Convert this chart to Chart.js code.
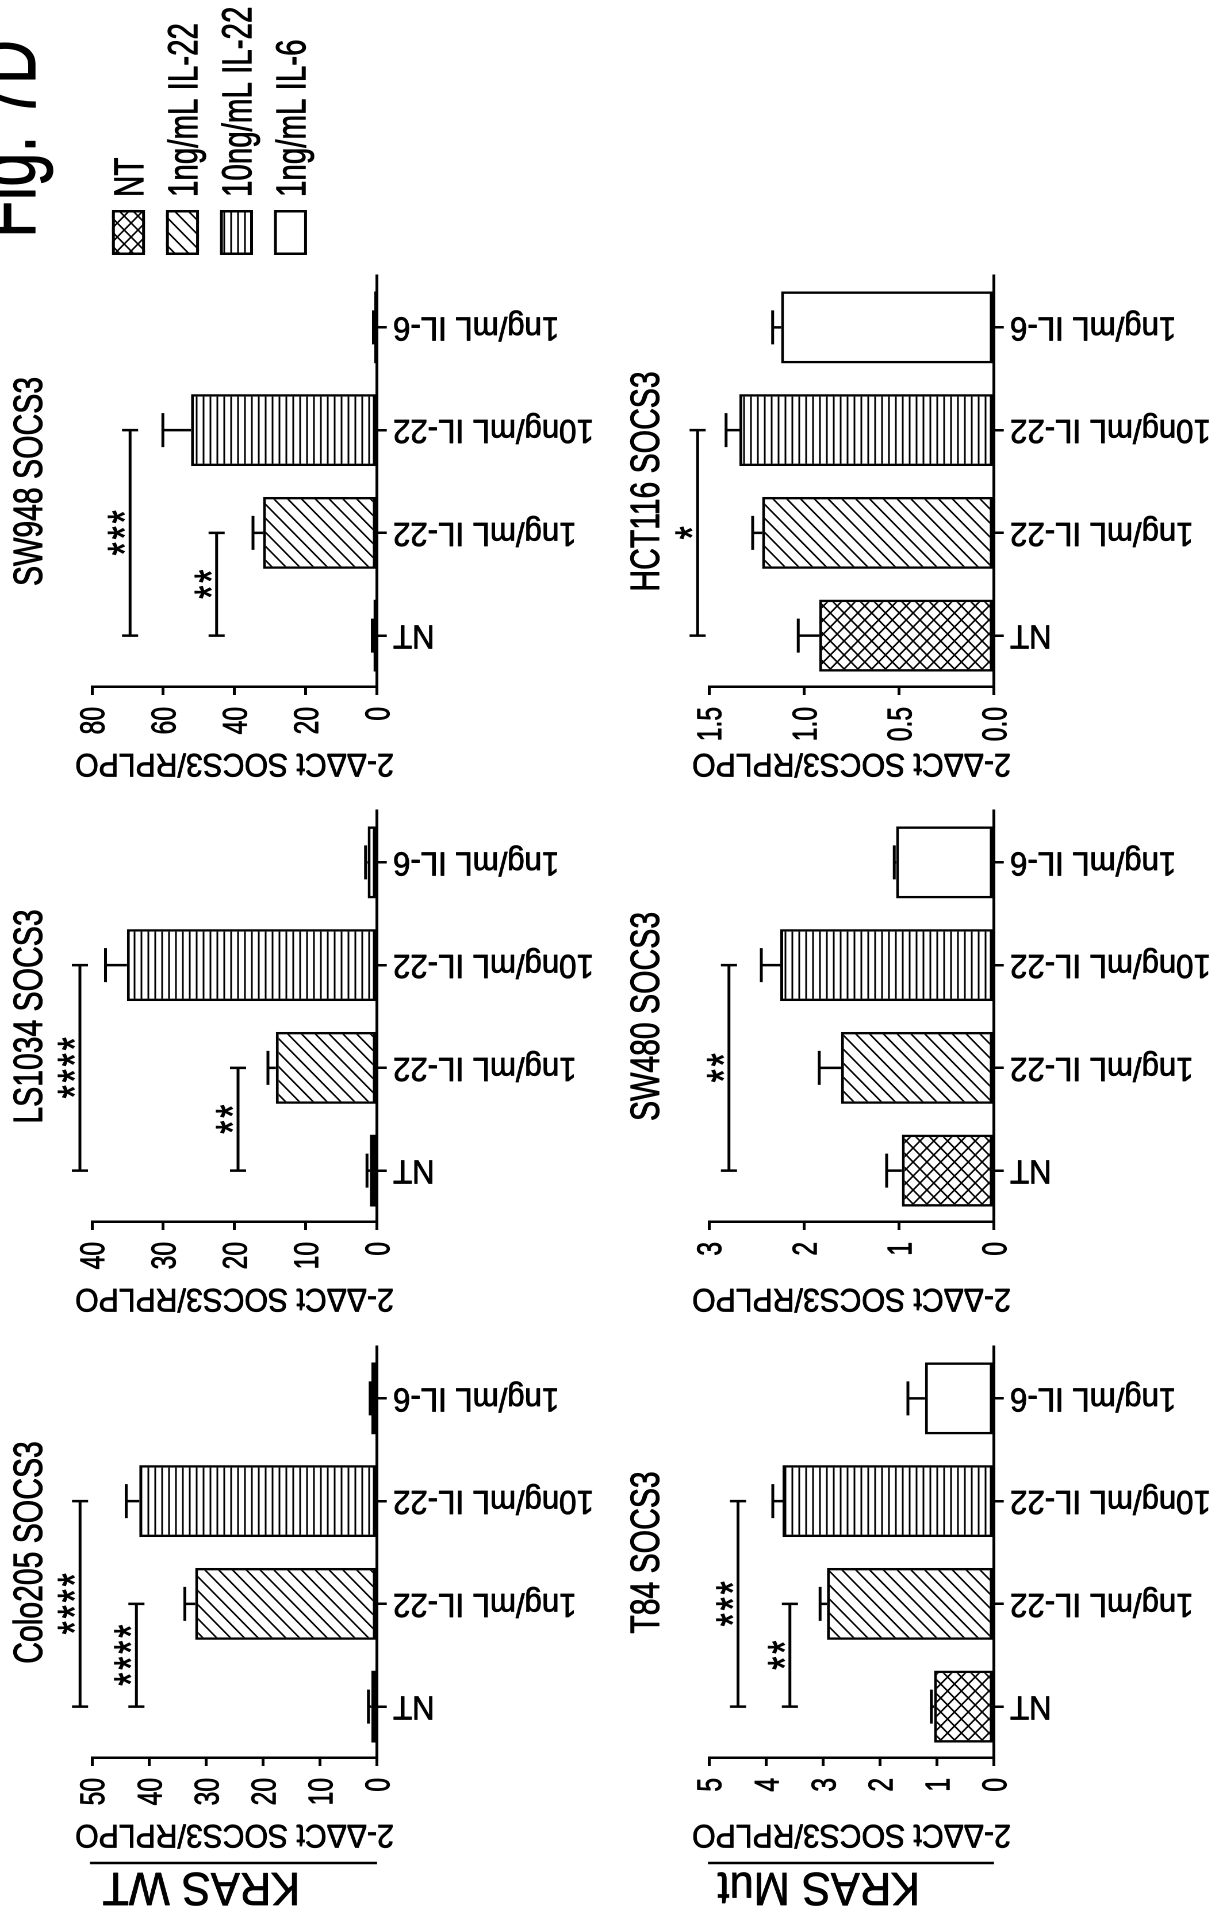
<!DOCTYPE html>
<html>
<head>
<meta charset="utf-8">
<title>Fig. 7D</title>
<script src="https://cdn.jsdelivr.net/npm/chart.js@4.4.1/dist/chart.umd.min.js"></script>
<style>
  html, body { margin: 0; padding: 0; background: #fff; }
  body { width: 1221px; height: 1910px; overflow: hidden; position: relative; }
  /* the whole figure is laid out upright and turned a quarter turn to the left */
  #figura {
    position: absolute; left: 0; top: 0; width: 1910px; height: 1062px;
    transform-origin: 0 0;
    transform: translate(0, 1910px) rotate(-90deg) scale(1, 1.15);
  }
  #figura canvas { position: absolute; }
</style>
</head>
<body>
<div id="figura"></div>
<script>
const categorias = ['NT', '1ng/mL IL-22', '10ng/mL IL-22', '1ng/mL IL-6'];

// KRAS WT
const colo205Media = [1.0, 31.9, 41.7, 1.0];
const colo205Sem = [0.5, 1.8, 2.3, 0.2];
const colo205Sig = [[0, 1, 42.2, '****'], [0, 2, 52.1, '****']];

const ls1034Media = [1.0, 14.2, 35.1, 1.3];
const ls1034Sem = [0.4, 1.1, 3.0, 0.3];
const ls1034Sig = [[0, 1, 19.5, '**'], [0, 2, 41.7, '****']];

const sw948Media = [1.0, 32.0, 52.2, 0.8];
const sw948Sem = [0.3, 2.8, 7.9, 0.2];
const sw948Sig = [[0, 1, 45.0, '**'], [0, 2, 69.3, '***']];

// KRAS Mut
const t84Media = [1.05, 2.93, 3.71, 1.21];
const t84Sem = [0.05, 0.12, 0.17, 0.30];
const t84Sig = [[0, 1, 3.58, '**'], [0, 2, 4.49, '***']];

const sw480Media = [0.97, 1.61, 2.25, 1.03];
const sw480Sem = [0.16, 0.23, 0.20, 0.02];
const sw480Sig = [[0, 2, 2.79, '**']];

const hct116Media = [0.92, 1.22, 1.34, 1.12];
const hct116Sem = [0.11, 0.05, 0.07, 0.045];
const hct116Sig = [[0, 2, 1.56, '*']];

const ejeMax = [50, 40, 80, 5, 3, 1.5];
const ejePaso = [10, 10, 20, 1, 1, 0.5];

const FONT = '"Liberation Sans", Arial, Helvetica, sans-serif';
const ESTRECHO = 0.82;   // narrow lettering
const STRETCH = 1.15;
const colU = [152, 688, 1223];
const plotW = 411;
const yAxisW = 150;
const filas = [
  {top: 0, height: 530, vTop: 92, vZero: 377, vTitle: 42},
  {top: 530, height: 532, vTop: 709, vZero: 994, vTitle: 659}
];

const paneles = [
  {titulo: 'Colo205 SOCS3', media: colo205Media, sem: colo205Sem, sig: colo205Sig, fila: 0, col: 0},
  {titulo: 'LS1034 SOCS3', media: ls1034Media, sem: ls1034Sem, sig: ls1034Sig, fila: 0, col: 1},
  {titulo: 'SW948 SOCS3', media: sw948Media, sem: sw948Sem, sig: sw948Sig, fila: 0, col: 2},
  {titulo: 'T84 SOCS3', media: t84Media, sem: t84Sem, sig: t84Sig, fila: 1, col: 0},
  {titulo: 'SW480 SOCS3', media: sw480Media, sem: sw480Sem, sig: sw480Sig, fila: 1, col: 1},
  {titulo: 'HCT116 SOCS3', media: hct116Media, sem: hct116Sem, sig: hct116Sig, fila: 1, col: 2}
];

const figura = document.getElementById('figura');

// narrow text, optionally turned, with a slightly heavy stroke
function texto(ctx, str, x, y, size, align = 'left', baseline = 'alphabetic', rot = 0, ancho = ESTRECHO) {
    ctx.save();
    ctx.translate(x, y);
    if (rot) ctx.rotate(rot);
    ctx.scale(ancho, 1);
    ctx.font = `${size}px ${FONT}`;
    ctx.textAlign = align;
    ctx.textBaseline = baseline;
    ctx.fillStyle = '#000';
    ctx.strokeStyle = '#000';
    ctx.lineWidth = 0.8;
    ctx.lineJoin = 'round';
    ctx.fillText(str, 0, 0);
    ctx.strokeText(str, 0, 0);
    ctx.restore();
}

// hatch fills: crosshatch, diagonal, stripes, plain
function crearPatron(ctx, tipo) {
    if (tipo === 'blanco') return '#fff';
    const w = tipo === 'rayas' ? 4 : 14;
    const h = tipo === 'rayas' ? 6 : 12;
    const tile = document.createElement('canvas');
    tile.width = w * 2;
    tile.height = h * 2;
    const t = tile.getContext('2d');
    t.scale(2, 2);
    t.fillStyle = '#fff';
    t.fillRect(0, 0, w, h);
    t.strokeStyle = '#000';
    t.lineWidth = 1.5;
    t.beginPath();
    if (tipo === 'rayas') {
        t.moveTo(0, h / 2);
        t.lineTo(w, h / 2);
    } else {
        for (let k = -1; k <= 1; k++) {
            t.moveTo(w * (k - 1), 2 * h);
            t.lineTo(w * (k + 2), -h);
            if (tipo === 'cruz') {
                t.moveTo(w * (k - 1), -h);
                t.lineTo(w * (k + 2), 2 * h);
            }
        }
    }
    t.stroke();
    const p = ctx.createPattern(tile, 'repeat');
    p.setTransform(new DOMMatrix([0.5, 0, 0, 0.5, 0, 0]));
    return p;
}
const tiposRelleno = ['cruz', 'diagonal', 'rayas', 'blanco'];

// error bars, significance brackets and all the lettering of a panel
function extrasPanel(panel, fila, decimales) {
    return {
        id: 'extras',
        afterDatasetsDraw(chart) {
            const {ctx, chartArea} = chart;
            const x = chart.scales.x;
            const y = chart.scales.y;
            const barras = chart.getDatasetMeta(0).data;
            ctx.save();
            ctx.strokeStyle = '#000';
            ctx.lineWidth = 2.5;

            ctx.beginPath();
            barras.forEach((bar, i) => {
                const arriba = y.getPixelForValue(panel.media[i]);
                const fin = y.getPixelForValue(panel.media[i] + panel.sem[i]);
                ctx.moveTo(bar.x, arriba);
                ctx.lineTo(bar.x, fin);
                ctx.moveTo(bar.x - 17, fin);
                ctx.lineTo(bar.x + 17, fin);
            });
            ctx.stroke();

            panel.sig.forEach(([a, b, valor, estrellas]) => {
                const xa = barras[a].x;
                const xb = barras[b].x;
                const yv = y.getPixelForValue(valor);
                ctx.lineWidth = 2.5;
                ctx.beginPath();
                ctx.moveTo(xa, yv);
                ctx.lineTo(xb, yv);
                ctx.moveTo(xa, yv - 7);
                ctx.lineTo(xa, yv + 7);
                ctx.moveTo(xb, yv - 7);
                ctx.lineTo(xb, yv + 7);
                ctx.stroke();
                const medio = (xa + xb) / 2;
                for (let k = 0; k < estrellas.length; k++) {
                    texto(ctx, '*', medio + (k - (estrellas.length - 1) / 2) * 16, yv + 9, 41, 'center');
                }
            });

            // value ticks
            y.ticks.forEach(t => {
                texto(ctx, Number(t.value).toFixed(decimales), chartArea.left - 20,
                      y.getPixelForValue(t.value) + 10.7, 30, 'right');
            });
            // category labels, reading upward and ending at the tick
            categorias.forEach((c, i) => {
                texto(ctx, c, x.getPixelForValue(i) + 1, chartArea.bottom + 14, 33, 'right', 'middle', -Math.PI / 2);
            });

            texto(ctx, panel.titulo, (chartArea.left + chartArea.right) / 2, fila.vTitle / STRETCH - fila.top,
                  35, 'center', 'alphabetic', 0, 0.86);
            texto(ctx, '2-\u0394\u0394Ct SOCS3/RPLPO', chartArea.left - 76, (chartArea.top + chartArea.bottom) / 2,
                  32, 'center', 'middle', -Math.PI / 2);
            ctx.restore();
        }
    };
}

function crearPanel(panel, n) {
    const fila = filas[panel.fila];
    const canvas = document.createElement('canvas');
    canvas.width = yAxisW + plotW + 9;
    canvas.height = fila.height;
    canvas.style.left = (colU[panel.col] - yAxisW) + 'px';
    canvas.style.top = fila.top + 'px';
    figura.appendChild(canvas);

    const areaTop = fila.vTop / STRETCH - fila.top;
    const areaBottom = fila.vZero / STRETCH - fila.top;
    const rellenos = tiposRelleno.map(t => crearPatron(canvas.getContext('2d'), t));
    const decimales = ejePaso[n] < 1 ? 1 : 0;

    new Chart(canvas, {
        type: 'bar',
        data: {
            labels: categorias,
            datasets: [{
                data: panel.media,
                backgroundColor: rellenos,
                borderColor: '#000',
                borderWidth: 2.5,
                borderSkipped: false,
                barPercentage: 0.7,
                categoryPercentage: 1.0
            }]
        },
        options: {
            responsive: false,
            animation: false,
            devicePixelRatio: 2,
            events: [],
            layout: {padding: {left: 0, right: 9, top: areaTop, bottom: 0}},
            plugins: {legend: {display: false}, tooltip: {enabled: false}, title: {display: false}},
            scales: {
                x: {
                    offset: true,
                    grid: {display: true, drawOnChartArea: false, drawTicks: true, tickLength: 8.5, offset: false, color: '#000', lineWidth: 2.5},
                    border: {display: true, color: '#000', width: 2.5},
                    ticks: {display: false},
                    afterFit: (s) => { s.height = fila.height - areaBottom; }
                },
                y: {
                    min: 0,
                    max: ejeMax[n],
                    grid: {display: true, drawOnChartArea: false, drawTicks: true, tickLength: 8, color: '#000', lineWidth: 2.5},
                    border: {display: true, color: '#000', width: 2.5},
                    ticks: {display: false, stepSize: ejePaso[n]},
                    afterFit: (s) => { s.width = yAxisW; }
                }
            }
        },
        plugins: [extrasPanel(panel, fila, decimales)]
    });
}

paneles.forEach((p, n) => crearPanel(p, n));

// legend, figure label and the KRAS row labels
function dibujarMarco() {
    const W = 1910, H = 1062;
    const canvas = document.createElement('canvas');
    canvas.width = W * 2;
    canvas.height = H * 2;
    canvas.style.left = '0px';
    canvas.style.top = '0px';
    canvas.style.width = W + 'px';
    canvas.style.height = H + 'px';
    figura.appendChild(canvas);
    const ctx = canvas.getContext('2d');
    ctx.scale(2, 2);
    ctx.strokeStyle = '#000';

    texto(ctx, 'Fig. 7D', 1672, 35 / STRETCH, 75);

    categorias.forEach((nombre, i) => {
        const q = (112 + 54 * i) / STRETCH;
        const alto = 33 / STRETCH;
        ctx.fillStyle = crearPatron(ctx, tiposRelleno[i]);
        ctx.fillRect(1655, q, 45, alto);
        ctx.strokeStyle = '#000';
        ctx.lineWidth = 2.5;
        ctx.strokeRect(1655 + 1.25, q + 1.25, 45 - 2.5, alto - 2.5);
        texto(ctx, nombre, 1713, q + alto / 2 + 12.9, 36);
    });

    ctx.strokeStyle = '#000';
    ctx.lineWidth = 2.5;
    ctx.beginPath();
    ctx.moveTo(47, 90 / STRETCH);
    ctx.lineTo(47, 377 / STRETCH);
    ctx.moveTo(47, 708 / STRETCH);
    ctx.lineTo(47, 994 / STRETCH);
    ctx.stroke();

    texto(ctx, 'KRAS WT', 37, 300 / STRETCH, 46, 'left', 'alphabetic', -Math.PI / 2);
    texto(ctx, 'KRAS Mut', 37, 920 / STRETCH, 46, 'left', 'alphabetic', -Math.PI / 2);
}
dibujarMarco();
</script>
</body>
</html>
